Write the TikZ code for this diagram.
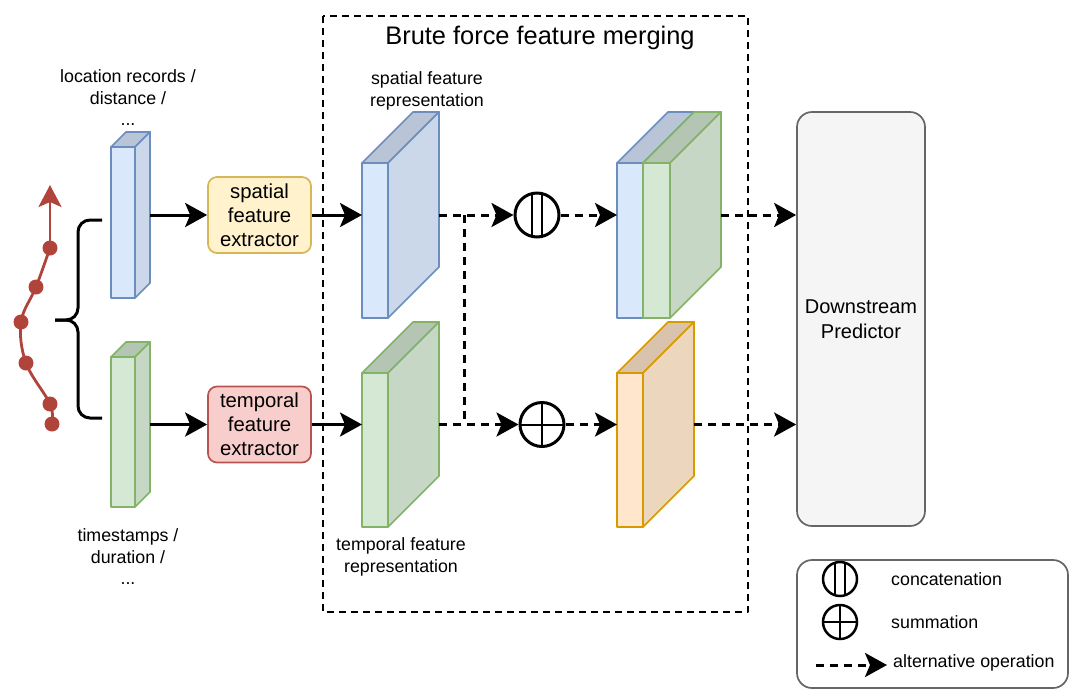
\documentclass[tikz,border=0pt]{standalone}
\usepackage{fontspec}
\setmainfont{Liberation Sans}
\usepackage{tikz}
\usetikzlibrary{arrows.meta}
\definecolor{bluefill}{HTML}{DAE8FC}
\definecolor{bluedraw}{HTML}{6C8EBF}
\definecolor{greenfill}{HTML}{D5E8D4}
\definecolor{greendraw}{HTML}{82B366}
\definecolor{yellowfill}{HTML}{FFF2CC}
\definecolor{yellowdraw}{HTML}{D6B656}
\definecolor{redfill}{HTML}{F8CECC}
\definecolor{reddraw}{HTML}{B85450}
\definecolor{orangefill}{HTML}{FFE6CC}
\definecolor{orangedraw}{HTML}{D79B00}
\definecolor{grayfill}{HTML}{F5F5F5}
\definecolor{graydraw}{HTML}{666666}
\definecolor{traj}{HTML}{B0433A}

% name, x, y (front face top left), width, height, depth, fill, draw
\newcommand{\featcube}[8]{%
  \filldraw[fill=#7, draw=#8, line width=1.7pt] (#2,#3) rectangle ({#2+#4},{#3+#5});
  \filldraw[fill=#7!85!black, draw=#8, line width=1.7pt] (#2,#3) -- ({#2+#6},{#3-#6})
    -- ({#2+#4+#6},{#3-#6}) -- ({#2+#4},#3) -- cycle;
  \filldraw[fill=#7!93!black, draw=#8, line width=1.7pt] ({#2+#4},#3) -- ({#2+#4+#6},{#3-#6})
    -- ({#2+#4+#6},{#3+#5-#6}) -- ({#2+#4},{#3+#5}) -- cycle;
  \node[inner sep=0pt, outer sep=0pt, minimum width={(#4+#6)*1pt}, minimum height={(#5+#6)*1pt}]
    (#1) at ({#2+(#4+#6)/2},{#3+(#5-#6)/2}) {};
}

\begin{document}
\begin{tikzpicture}[x=1pt, y=-1pt, line join=round,
  box/.style={draw, rounded corners=9pt, line width=1.7pt, minimum width=103pt,
    minimum height=76pt, align=center, inner sep=0pt, font=\fontsize{20.3}{24}\selectfont},
  lbl/.style={align=center, inner sep=0pt, font=\fontsize{17.8}{21.5}\selectfont},
  flow/.style={line width=3pt, -{Stealth[length=22pt, width=24pt, inset=5pt]}},
  alt/.style={flow, dash pattern=on 8pt off 6pt},
  opcircle/.style={circle, draw, fill=white, line width=3pt, minimum size=44pt, inner sep=0pt},
  catmark/.style={path picture={\draw[line width=2pt]
    ([xshift=-5pt]path picture bounding box.north) -- ([xshift=-5pt]path picture bounding box.south)
    ([xshift=5pt]path picture bounding box.north) -- ([xshift=5pt]path picture bounding box.south);}},
  summark/.style={path picture={\draw[line width=2pt]
    (path picture bounding box.north) -- (path picture bounding box.south)
    (path picture bounding box.west) -- (path picture bounding box.east);}}]
  \useasboundingbox (0,0) rectangle (1075,697);

  % merging frame
  \draw[line width=2pt, dash pattern=on 7pt off 5pt] (323,16) rectangle (748,612);
  \node[font=\fontsize{25.4}{30}\selectfont] (title) at (540,38) {Brute force feature merging};

  % trajectory
  \foreach \n/\px/\py in {1/52/424, 2/50/404, 3/26/363, 4/21/322, 5/36/287, 6/50/248}
    \coordinate (t\n) at (\px,\py);
  \coordinate (ttip) at (50,185);
  \draw[traj, line width=2.8pt] plot[smooth, tension=0.6] coordinates {(t1) (t2) (t3) (t4) (t5) (t6)};
  \draw[traj, line width=2.8pt, -{Stealth[length=22pt, width=23pt, inset=5pt]}] (t6) -- (ttip);
  \foreach \n in {1,...,6}
    \fill[traj] (t\n) circle (7.5);

  % brace
  \draw[line width=3pt, rounded corners=12pt] (102,220) -| (78,320) -- (55,320);
  \draw[line width=3pt, rounded corners=12pt] (102,418) -| (78,320) -- (55,320);

  % inputs
  \featcube{locblk}{111}{147}{24}{151}{15}{bluefill}{bluedraw}
  \featcube{timeblk}{111}{357}{24}{150}{15}{greenfill}{greendraw}
  \node[lbl] (loclbl) at (128,98) {location records /\\distance /\\...};
  \node[lbl] (timelbl) at (128,557) {timestamps /\\duration /\\...};

  % extractors
  \node[box, fill=yellowfill, draw=yellowdraw] (spatialfx) at (259.5,215) {spatial\\feature\\extractor};
  \node[box, fill=redfill, draw=reddraw] (temporalfx) at (259.5,424.5) {temporal\\feature\\extractor};

  % representations
  \featcube{spatrep}{362}{163}{26}{155}{51}{bluefill}{bluedraw}
  \featcube{temprep}{362}{373}{26}{154}{51}{greenfill}{greendraw}
  \node[lbl] (spatlbl) at (427,91) {spatial feature\\representation};
  \node[lbl] (templbl) at (401,557) {temporal feature\\representation};

  % merged features
  \featcube{catblu}{617}{163}{26}{155}{51}{bluefill}{bluedraw}
  \featcube{catgrn}{643}{163}{27}{155}{51}{greenfill}{greendraw}
  \featcube{sumblk}{617}{373}{26}{154}{51}{orangefill}{orangedraw}

  \node[opcircle, catmark] (concat) at (537,215) {};
  \node[opcircle, summark] (sum) at (542,424.5) {};

  \node[draw=graydraw, fill=grayfill, rounded corners=15pt, line width=1.7pt, minimum width=128pt,
    minimum height=414pt, align=center, font=\fontsize{20}{25}\selectfont] (pred) at (861,319)
    {Downstream\\Predictor};

  % connectors
  \draw[flow] (locblk.east) -- (spatialfx.west);
  \draw[flow] (timeblk.east) -- (temporalfx.west);
  \draw[flow] (spatialfx.east) -- (spatrep.west);
  \draw[flow] (temporalfx.east) -- (temprep.west);
  \coordinate (split) at ([xshift=25pt]spatrep.east);
  \draw[alt] (spatrep.east) -- (concat.west);
  \draw[alt] (temprep.east) -- (sum.west);
  \draw[line width=3pt, dash pattern=on 8pt off 6pt] (split) -- (split |- sum.west);
  \draw[alt] (concat.east) -- (catblu.west);
  \draw[alt] (sum.east) -- (sumblk.west);
  \draw[alt] (catgrn.east) -- (catgrn.east -| pred.west);
  \draw[alt] (sumblk.east) -- (sumblk.east -| pred.west);

  % legend
  \node[draw=graydraw, rounded corners=15pt, line width=1.7pt, minimum width=271pt,
    minimum height=128pt] (legend) at (932.5,624) {};
  \node[opcircle, catmark, minimum size=34pt, line width=2.5pt] (lgcat) at (840,579) {};
  \node[opcircle, summark, minimum size=34pt, line width=2.5pt] (lgsum) at (840,622) {};
  \coordinate (lgfrom) at (816,665);
  \coordinate (lgto) at (887,665);
  \draw[alt] (lgfrom) -- (lgto);
  \node[lbl, anchor=west] (lgcattxt) at (891,579) {concatenation};
  \node[lbl, anchor=west] (lgsumtxt) at (891,622) {summation};
  \node[lbl, anchor=west] (lgalttxt) at (893,663) {alternative operation};
\end{tikzpicture}
\end{document}
